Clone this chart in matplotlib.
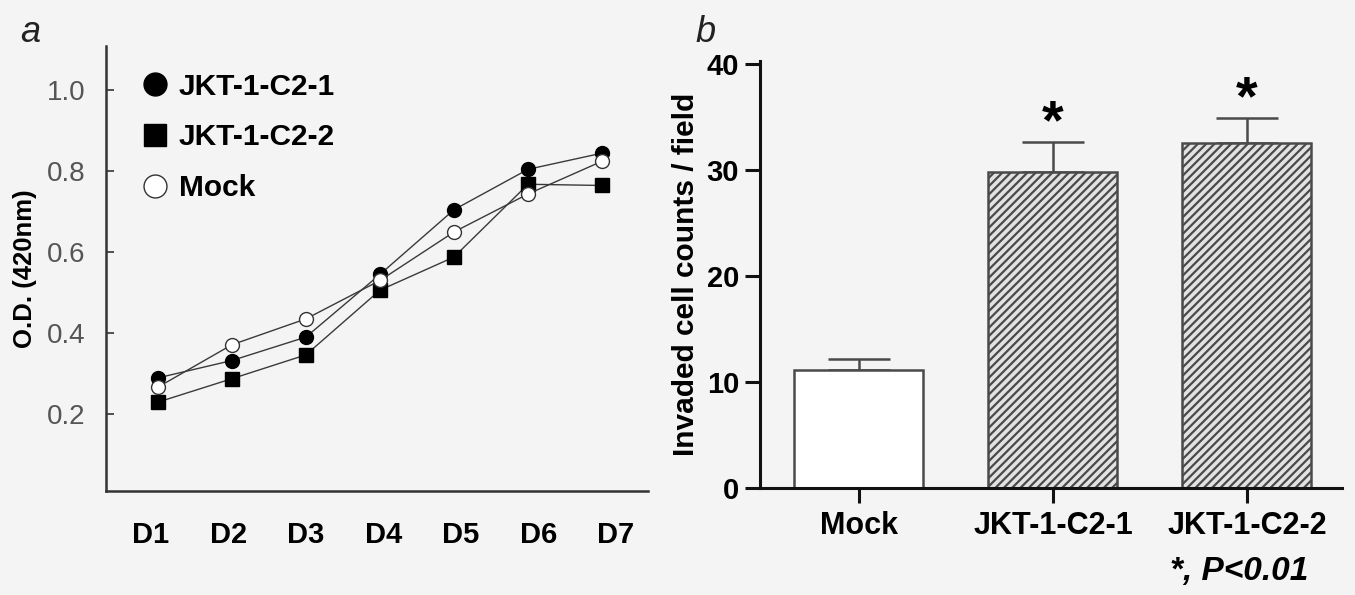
import matplotlib
matplotlib.use("Agg")
import matplotlib.pyplot as plt
import numpy as np

plt.rcParams['font.family'] = ['Liberation Sans', 'DejaVu Sans']
plt.rcParams['hatch.color'] = '#4a4a4a'
plt.rcParams['hatch.linewidth'] = 1.6

# ---- Panel a data ----
days = ["D1", "D2", "D3", "D4", "D5", "D6", "D7"]
c2_1 = [0.289, 0.332, 0.390, 0.545, 0.705, 0.805, 0.845]
c2_2 = [0.229, 0.287, 0.346, 0.506, 0.588, 0.768, 0.765]
mock_a = [0.266, 0.371, 0.435, 0.530, 0.650, 0.744, 0.825]
yticks_a = [0.2, 0.4, 0.6, 0.8, 1.0]

# ---- Panel b data ----
groups = ["Mock", "JKT-1-C2-1", "JKT-1-C2-2"]
invaded = [11.1, 29.8, 32.5]
invaded_err = [1.0, 2.85, 2.4]
significant = [False, True, True]
yticks_b = [0, 10, 20, 30, 40]

bg = '#f4f4f4'
W, H = 1355, 595
fig = plt.figure(figsize=(W / 100, H / 100), dpi=100, facecolor=bg)

def fx(px):
    return px / W

def fy(py):
    return 1 - py / H

# ================= Panel a =================
axa = fig.add_axes([fx(106), fy(490.7), fx(648 - 106), fy(46) - fy(490.7)])
axa.set_facecolor(bg)
x = np.arange(1, len(days) + 1)
line_col = '#3a3a3a'
axa.plot(x, c2_1, '-', color=line_col, lw=1.0, marker='o', ms=10,
         mfc='black', mec='black', label='JKT-1-C2-1', zorder=3)
axa.plot(x, c2_2, '-', color=line_col, lw=1.0, marker='s', ms=10,
         mfc='black', mec='black', label='JKT-1-C2-2', zorder=3)
axa.plot(x, mock_a, '-', color=line_col, lw=1.0, marker='o', ms=10,
         mfc='white', mec='#333333', mew=1.0, label='Mock', zorder=4)
axa.set_xlim(0.30, 7.62)
axa.set_ylim(0.01, 1.11)
axa.set_yticks(yticks_a)
axa.set_yticklabels([f"{v:.1f}" for v in yticks_a])
axa.set_xticks([])
for s in ['top', 'right']:
    axa.spines[s].set_visible(False)
for s in ['left', 'bottom']:
    axa.spines[s].set_linewidth(1.8)
    axa.spines[s].set_color('#333333')
axa.tick_params(axis='y', direction='in', length=6, width=1.2, color='#333333',
                pad=15, labelsize=20, labelcolor='#555555')
axa.set_ylabel("O.D. (420nm)", fontsize=18.5, fontweight='bold')
axa.yaxis.set_label_coords(-0.128, 0.5)

# day labels sit on their own (slightly wider) spacing, as in the original figure
axl = axa.twiny()
axl.set_xlim(0.419, 7.413)
axl.xaxis.set_ticks_position('bottom')
axl.xaxis.set_label_position('bottom')
axl.set_xticks(x)
axl.set_xticklabels(days)
axl.tick_params(axis='x', length=0, pad=22, labelsize=21)
for lab in axl.get_xticklabels():
    lab.set_fontweight('bold')
for s in axl.spines.values():
    s.set_visible(False)

leg = axa.legend(loc='upper left', bbox_to_anchor=(0.063, 0.94), frameon=False,
                 fontsize=21.5, markerscale=1.65, handlelength=1.0, handletextpad=0.3,
                 labelspacing=0.76, borderpad=0, borderaxespad=0)
for t in leg.get_texts():
    t.set_fontweight('bold')
for ln in leg.get_lines():
    ln.set_linestyle('none')
fig.text(fx(20), fy(42), "a", fontsize=26, style='italic', ha='left', va='baseline',
         color='#222222')

# ================= Panel b =================
axb = fig.add_axes([fx(760), fy(487.7), fx(1342 - 760), fy(60.7) - fy(487.7)])
axb.set_facecolor(bg)
xb = np.arange(len(groups))
faces = ['white', '#e2e2e2', '#e2e2e2']
hatches = [None, '////', '////']
for i in range(len(groups)):
    axb.bar(xb[i], invaded[i], width=0.665, color=faces[i], edgecolor='#4a4a4a',
            linewidth=1.8, hatch=hatches[i], zorder=2)
    axb.errorbar(xb[i], invaded[i], yerr=[[0], [invaded_err[i]]], fmt='none',
                 ecolor='#4a4a4a', elinewidth=1.8, capsize=22, capthick=1.8, zorder=1)
    if significant[i]:
        axb.text(xb[i], invaded[i] + invaded_err[i] + 0.3, "*", ha='center',
                 va='baseline', fontsize=40, fontweight='bold')
axb.set_xlim(-0.51, 2.49)
axb.set_ylim(0, 40.3)
axb.set_yticks(yticks_b)
axb.set_xticks(xb)
axb.set_xticklabels(groups)
for s in ['top', 'right']:
    axb.spines[s].set_visible(False)
for s in ['left', 'bottom']:
    axb.spines[s].set_linewidth(2.2)
    axb.spines[s].set_color('#111111')
axb.tick_params(axis='both', direction='out', length=11, width=2.2, color='#111111',
                labelsize=22)
axb.tick_params(axis='y', pad=4, labelsize=21)
axb.tick_params(axis='x', pad=6)
for lab in axb.get_xticklabels() + axb.get_yticklabels():
    lab.set_fontweight('bold')
axb.set_ylabel("Invaded cell counts / field", fontsize=21.5, fontweight='bold')
axb.yaxis.set_label_coords(-0.103, 0.5)
fig.text(fx(695), fy(42), "b", fontsize=26, style='italic', ha='left', va='baseline',
         color='#222222')
fig.text(fx(1308), fy(580), "*, P<0.01", fontsize=24, fontweight='bold', style='italic',
         ha='right', va='baseline')

fig.savefig("out.png", dpi=100, facecolor=bg)
